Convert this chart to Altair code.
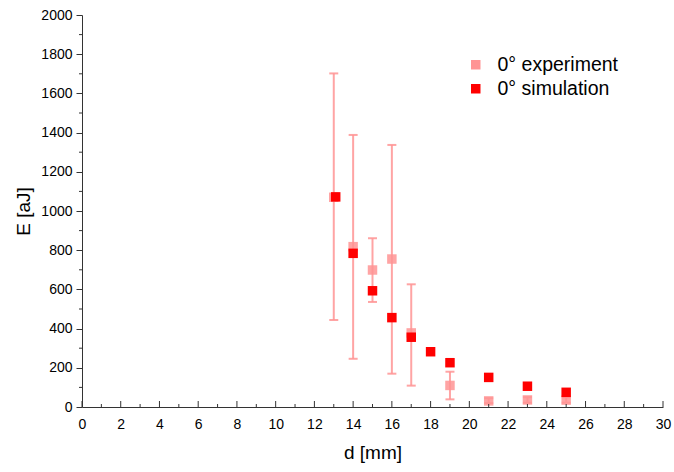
import altair as alt
import pandas as pd

# Measured energy at 0 deg with uncertainty range
exp_d = [13, 14, 15, 16, 17, 19, 21, 23, 25]
exp_E = [1070, 818, 699, 755, 378, 110, 31, 36, 35]
exp_lo = [444, 246, 536, 170, 109, 39, 20, 22, 22]
exp_hi = [1702, 1388, 861, 1337, 626, 180, 45, 50, 50]

# Simulated energy at 0 deg
sim_d = [13.1, 14, 15, 16, 17, 18, 19, 21, 23, 25]
sim_E = [1072, 784, 593, 456, 356, 282, 226, 151, 106, 75]

x_major = list(range(0, 31, 2))
x_minor = list(range(1, 30, 2))
y_major = list(range(0, 2001, 200))
y_minor = list(range(100, 2000, 200))

W, H = 581, 392
FONT = "Liberation Sans"
PINK = "#ff9494"
RED = "#ff0000"

exp_df = pd.DataFrame({"d": exp_d, "E": exp_E, "lo": exp_lo, "hi": exp_hi,
                       "series": "0° experiment"})
sim_df = pd.DataFrame({"d": sim_d, "E": sim_E, "series": "0° simulation"})

xs = alt.Scale(domain=[0, 30], nice=False, zero=False)
ys = alt.Scale(domain=[0, 2000], nice=False)
color = alt.Color(
    "series:N",
    scale=alt.Scale(domain=["0° experiment", "0° simulation"], range=[PINK, RED]),
    legend=alt.Legend(
        title=None, orient="none", legendX=384, legendY=40,
        symbolType="square", symbolSize=90, symbolOpacity=1,
        symbolStrokeWidth=0, labelFont=FONT, labelFontSize=19.5,
        labelColor="#000", rowPadding=3, labelOffset=12, labelLimit=300,
    ),
)

x_axis = alt.Axis(values=x_major, format="d", ticks=False, grid=False,
                  labelOverlap=False, labelFlush=False,
                  labelPadding=10, title="d [mm]", titlePadding=12)
y_axis = alt.Axis(values=y_major, format="d", grid=False, tickSize=6,
                  labelOverlap=False, labelFlush=False,
                  labelPadding=4, title="E [aJ]", titlePadding=7)


def X(field):
    return alt.X(field, type="quantitative", scale=xs, axis=x_axis)


def Y(field):
    return alt.Y(field, type="quantitative", scale=ys, axis=y_axis)


base_exp = alt.Chart(exp_df)

bars = base_exp.mark_rule(color=PINK, strokeWidth=2, opacity=0.85).encode(
    x=X("d"), y=Y("lo"), y2="hi:Q")
caps_lo = base_exp.mark_tick(color=PINK, orient="horizontal", size=9,
                             thickness=2, opacity=0.85).encode(
    x=X("d"), y=Y("lo"))
caps_hi = base_exp.mark_tick(color=PINK, orient="horizontal", size=9,
                             thickness=2, opacity=0.85).encode(
    x=X("d"), y=Y("hi"))

exp_pts = base_exp.mark_square(size=90, opacity=0.85).encode(
    x=X("d"), y=Y("E"), color=color)
sim_pts = alt.Chart(sim_df).mark_square(size=90, opacity=1).encode(
    x=X("d"), y=Y("E"), color=color)

# Inward-pointing ticks along the d axis
xt_major = alt.Chart(pd.DataFrame({"d": x_major})).mark_rule(
    color="#333", strokeWidth=1).encode(
    x=X("d"), y=alt.value(H), y2=alt.value(H - 6))
xt_minor = alt.Chart(pd.DataFrame({"d": x_minor})).mark_rule(
    color="#333", strokeWidth=1).encode(
    x=X("d"), y=alt.value(H), y2=alt.value(H - 3))

# Minor ticks on the E axis
yt_minor = alt.Chart(pd.DataFrame({"E": y_minor})).mark_rule(
    color="#333", strokeWidth=1, clip=False).encode(
    y=Y("E"), x=alt.value(0), x2=alt.value(-3))

chart = alt.layer(
    bars, caps_lo, caps_hi, exp_pts, sim_pts, xt_major, xt_minor, yt_minor
).properties(
    width=W, height=H, background="white",
    padding={"left": 82, "top": 15, "right": 11, "bottom": 65},
    autosize=alt.AutoSizeParams(type="none"),
).configure_view(
    stroke=None, strokeWidth=0
).configure_axis(
    labelOverlap=False, labelFont=FONT, labelFontSize=14, labelColor="#000",
    domainColor="#333", domainWidth=1, tickColor="#333", tickWidth=1,
    titleFont=FONT, titleFontSize=19, titleFontWeight="normal",
    titleColor="#000",
)

chart.save("out.html", embed_options={"renderer": "svg", "actions": False})
